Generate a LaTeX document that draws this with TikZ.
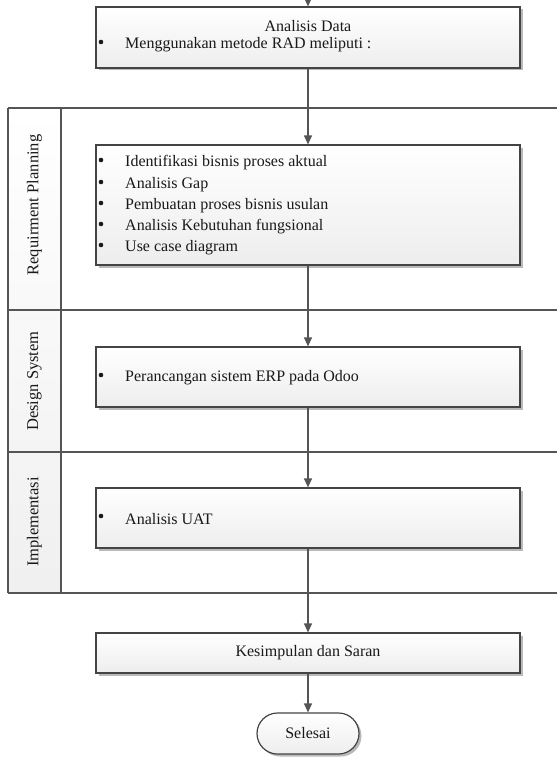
\documentclass[tikz,border=0pt]{standalone}
\usepackage{fontspec}
\setmainfont{Liberation Serif}
\usetikzlibrary{arrows.meta,shadows,shapes.misc}
\definecolor{lineg}{HTML}{555555}
\definecolor{boxg}{HTML}{444444}
\tikzset{
  procbox/.style={draw=boxg, line width=1.2pt, rectangle, minimum width=424pt,
    top color=white, bottom color=gray!14, inner sep=0pt,
    drop shadow={shadow xshift=2.5pt, shadow yshift=-2.5pt, fill=gray!55, opacity=1}},
  endbox/.style={procbox, rounded rectangle, minimum width=102pt, minimum height=41pt},
  flow/.style={draw=lineg, line width=1.2pt, -{Triangle[length=9pt,width=8pt]}},
  lane/.style={draw=lineg, line width=1.1pt},
  txt/.style={font=\fontsize{16}{20}\selectfont, inner sep=0pt, text=black!90},
  bul/.style={circle, fill=black!90, inner sep=0pt, minimum size=4.6pt},
  item/.style={txt, anchor=west},
  lanelabel/.style={txt, font=\fontsize{16.5}{20}\selectfont, rotate=90},
}
\begin{document}
\begin{tikzpicture}[x=1pt,y=-1pt]
\useasboundingbox (0,0) rectangle (557,757);
% swimlanes
\fill[top color=white, bottom color=gray!12] (8,108) rectangle (61,593);
\draw[lane] (8,108) -- (557,108);
\draw[lane] (8,310) -- (557,310);
\draw[lane] (8,452) -- (557,452);
\draw[lane] (8,593) -- (557,593);
\draw[lane] (8,108) -- (8,593);
\draw[lane] (61,108) -- (61,593);
\node[lanelabel] (l1) at (34.5,205) {Requirment Planning};
\node[lanelabel] (l2) at (34.5,381) {Design System};
\node[lanelabel] (l3) at (34.5,522) {Implementasi};
% boxes
\node[procbox, minimum height=61pt] (b0) at (308,37.5) {};
\node[procbox, minimum height=120pt] (b1) at (308,205) {};
\node[procbox, minimum height=60pt] (b2) at (308,377) {};
\node[procbox, minimum height=60pt] (b3) at (308,518) {};
\node[procbox, minimum height=40pt] (b4) at (308,653) {};
\node[endbox] (b5) at (308,733.5) {};
% texts
\node[txt] (t0) at (308,26) {Analisis Data};
\node[bul] (t0b) at (101,42) {};
\node[item] (t0i) at (125,45) {Menggunakan metode RAD meliputi :};
\node[bul] (t1b1) at (101,160) {};
\node[item] (t1i1) at (125,163) {Identifikasi bisnis proses aktual};
\node[bul] (t1b2) at (101,182) {};
\node[item] (t1i2) at (125,185) {Analisis Gap};
\node[bul] (t1b3) at (101,203) {};
\node[item] (t1i3) at (125,206) {Pembuatan proses bisnis usulan};
\node[bul] (t1b4) at (101,224) {};
\node[item] (t1i4) at (125,227) {Analisis Kebutuhan fungsional};
\node[bul] (t1b5) at (101,245) {};
\node[item] (t1i5) at (125,248) {Use case diagram};
\node[bul] (t2b) at (101,375) {};
\node[item] (t2i) at (125,378) {Perancangan sistem ERP pada Odoo};
\node[bul] (t3b) at (101,516) {};
\node[item] (t3i) at (125,519) {Analisis UAT};
\node[txt] (t4) at (308,653) {Kesimpulan dan Saran};
\node[txt] (t5) at (308,733.5) {Selesai};
% connectors
\coordinate (top) at (308,-20);
\draw[flow] (top) -- (b0.north);
\draw[flow] (b0.south) -- (b1.north);
\draw[flow] (b1.south) -- (b2.north);
\draw[flow] (b2.south) -- (b3.north);
\draw[flow] (b3.south) -- (b4.north);
\draw[flow] (b4.south) -- (b5.north);
\end{tikzpicture}
\end{document}
